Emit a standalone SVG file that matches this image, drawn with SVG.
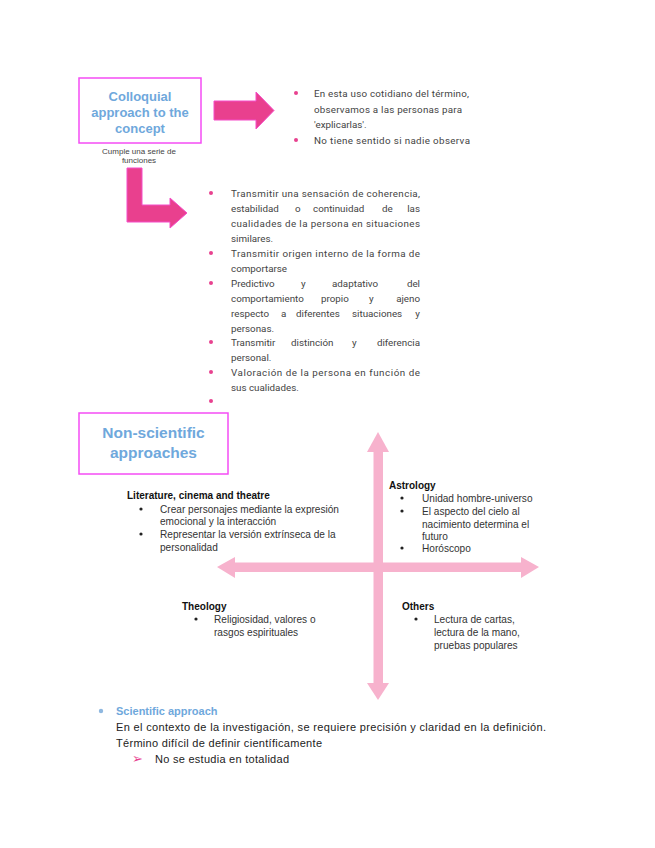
<svg xmlns="http://www.w3.org/2000/svg" width="655" height="848" viewBox="0 0 655 848">
<style>
.box{fill:#fff;stroke:#f54cf5;stroke-width:1.5}
.title{font-family:"Liberation Sans",Arial,sans-serif;font-weight:bold;fill:#6fa8dc;text-anchor:middle}
.ro{font-family:Roboto,"Liberation Sans",sans-serif;font-size:9.8px;fill:#444}
.end{text-anchor:end}
.li{font-family:"Liberation Sans",Arial,sans-serif;font-size:10.1px;fill:#333}
.sm{font-family:"Liberation Sans",Arial,sans-serif;font-size:8px;fill:#444;text-anchor:middle}
.hd{font-family:"Liberation Sans",Arial,sans-serif;font-size:10px;font-weight:bold;fill:#111}
.pb{fill:#e8418f}
.bb{fill:#222}
.mag{fill:#e9408e;stroke:#f54cc8;stroke-width:1}
.cross{fill:#f7b2cd}
.body{font-family:"Liberation Sans",Arial,sans-serif;font-size:11px;fill:#222}
</style>

<g id="colloquial">
<rect class="box" x="79" y="78" width="122" height="65"/>
<text class="title" font-size="13" x="140" y="101">Colloquial</text>
<text class="title" font-size="13" x="140" y="117">approach to the</text>
<text class="title" font-size="13" x="140" y="133">concept</text>
</g>

<g id="cumple-label">
<text class="sm" x="139" y="154">Cumple una serie de</text>
<text class="sm" x="139" y="163">funciones</text>
</g>

<g id="connectors">
<polygon class="mag" points="214,101 256,101 256,92 274,110.5 256,129 256,120 214,120"/>
<polygon class="mag" points="127,168 142,168 142,205 170,205 170,198 187,213 170,228 170,222 127,222"/>
<rect class="cross" x="373.5" y="450" width="9.5" height="236"/>
<polygon class="cross" points="378,432 389,452 367,452"/>
<polygon class="cross" points="378,700 389,683 367,683"/>
<rect class="cross" x="233" y="562.5" width="290" height="9.5"/>
<polygon class="cross" points="217,567 235,557 235,578"/>
<polygon class="cross" points="539,567 521,557 521,578"/>
</g>

<g id="usage-list">
<circle class="pb" cx="296" cy="93" r="2"/>
<text class="ro" x="314" y="96.5" textLength="155" lengthAdjust="spacing">En esta uso cotidiano del término,</text>
<text class="ro" x="314" y="112.5" textLength="148" lengthAdjust="spacing">observamos a las personas para</text>
<text class="ro" x="314" y="128">'explicarlas'.</text>
<circle class="pb" cx="296" cy="140" r="2"/>
<text class="ro" x="314" y="143.5" textLength="156" lengthAdjust="spacing">No tiene sentido si nadie observa</text>
</g>

<g id="functions-list">
<circle class="pb" cx="211" cy="193" r="2"/>
<text class="ro" x="231" y="196.5" textLength="189" lengthAdjust="spacing">Transmitir una sensación de coherencia,</text>
<text class="ro" y="211.5"><tspan x="231">estabilidad</tspan><tspan x="295">o</tspan><tspan x="313">continuidad</tspan><tspan x="382">de</tspan></text>
<text class="ro end" x="420" y="211.5">las</text>
<text class="ro" x="231" y="226.5" textLength="189" lengthAdjust="spacing">cualidades de la persona en situaciones</text>
<text class="ro" x="231" y="241.5">similares.</text>
<circle class="pb" cx="211" cy="253" r="2"/>
<text class="ro" x="231" y="256.5" textLength="189" lengthAdjust="spacing">Transmitir origen interno de la forma de</text>
<text class="ro" x="231" y="271.5">comportarse</text>
<circle class="pb" cx="211" cy="283" r="2"/>
<text class="ro" y="286.5"><tspan x="231">Predictivo</tspan><tspan x="301">y</tspan><tspan x="332">adaptativo</tspan></text>
<text class="ro end" x="420" y="286.5">del</text>
<text class="ro" y="301.5"><tspan x="231">comportamiento</tspan><tspan x="321">propio</tspan><tspan x="369">y</tspan></text>
<text class="ro end" x="420" y="301.5">ajeno</text>
<text class="ro" y="316.5"><tspan x="231">respecto</tspan><tspan x="281">a</tspan><tspan x="296">diferentes</tspan><tspan x="352">situaciones</tspan></text>
<text class="ro end" x="420" y="316.5">y</text>
<text class="ro" x="231" y="331.5">personas.</text>
<circle class="pb" cx="211" cy="342" r="2"/>
<text class="ro" y="345.5"><tspan x="231">Transmitir</tspan><tspan x="291">distinción</tspan><tspan x="352">y</tspan></text>
<text class="ro end" x="420" y="345.5">diferencia</text>
<text class="ro" x="231" y="360.5">personal.</text>
<circle class="pb" cx="211" cy="372" r="2"/>
<text class="ro" x="231" y="375.5" textLength="189" lengthAdjust="spacing">Valoración de la persona en función de</text>
<text class="ro" x="231" y="390.5">sus cualidades.</text>
<circle class="pb" cx="211" cy="401" r="2"/>
</g>

<g id="non-scientific">
<rect class="box" x="79" y="413" width="149" height="61"/>
<text class="title" font-size="15.5" x="153.5" y="438">Non-scientific</text>
<text class="title" font-size="15.5" x="153.5" y="458">approaches</text>
</g>

<g id="literature">
<text class="hd" x="127" y="498.5">Literature, cinema and theatre</text>
<circle class="bb" cx="141" cy="509" r="1.6"/>
<text class="li" x="160" y="512.5">Crear personajes mediante la expresión</text>
<text class="li" x="160" y="524.5">emocional y la interacción</text>
<circle class="bb" cx="141" cy="534" r="1.6"/>
<text class="li" x="160" y="537.5">Representar la versión extrínseca de la</text>
<text class="li" x="160" y="550.5">personalidad</text>
</g>

<g id="astrology">
<text class="hd" x="389" y="488.5">Astrology</text>
<circle class="bb" cx="402" cy="498" r="1.6"/>
<text class="li" x="422" y="501.5">Unidad hombre-universo</text>
<circle class="bb" cx="402" cy="511" r="1.6"/>
<text class="li" x="422" y="514.5">El aspecto del cielo al</text>
<text class="li" x="422" y="527.5">nacimiento determina el</text>
<text class="li" x="422" y="539.5">futuro</text>
<circle class="bb" cx="402" cy="548" r="1.6"/>
<text class="li" x="422" y="551.5">Horóscopo</text>
</g>

<g id="theology">
<text class="hd" x="182" y="609.5">Theology</text>
<circle class="bb" cx="196" cy="619" r="1.6"/>
<text class="li" x="214" y="622.5">Religiosidad, valores o</text>
<text class="li" x="214" y="635.5">rasgos espirituales</text>
</g>

<g id="others">
<text class="hd" x="402" y="609.5">Others</text>
<circle class="bb" cx="416" cy="619" r="1.6"/>
<text class="li" x="434" y="622.5">Lectura de cartas,</text>
<text class="li" x="434" y="635.5">lectura de la mano,</text>
<text class="li" x="434" y="648.5">pruebas populares</text>
</g>

<g id="scientific">
<circle fill="#8fb8e0" cx="101" cy="711" r="2.2"/>
<text x="116" y="715" font-family="Liberation Sans,Arial,sans-serif" font-size="11" font-weight="bold" fill="#6fa8dc">Scientific approach</text>
<text class="body" x="116" y="731" textLength="430" lengthAdjust="spacing">En el contexto de la investigación, se requiere precisión y claridad en la definición.</text>
<text class="body" x="116" y="747" textLength="206" lengthAdjust="spacing">Término difícil de definir científicamente</text>
<text x="132" y="763" font-family="DejaVu Sans,sans-serif" font-size="13" fill="#e8418f">➢</text>
<text class="body" x="155" y="763" textLength="134" lengthAdjust="spacing">No se estudia en totalidad</text>
</g>
</svg>
